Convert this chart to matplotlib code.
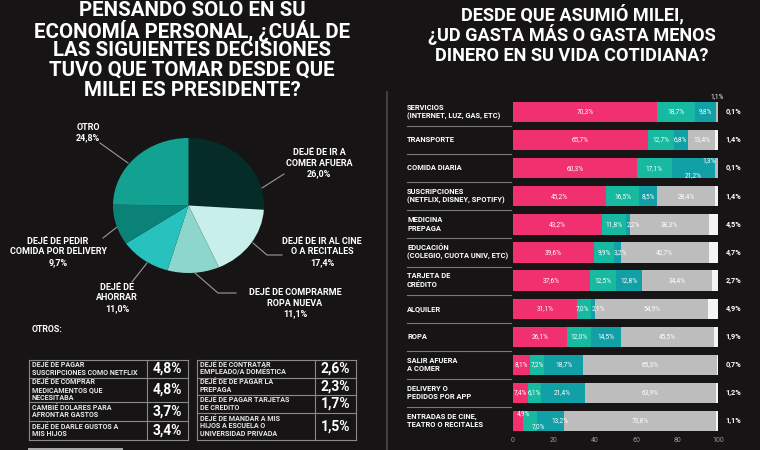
import matplotlib.pyplot as plt
from matplotlib.patches import Rectangle

plt.rcParams['font.family'] = ['Roboto', 'DejaVu Sans']

# pie chart: decisions taken
decisiones = ['DEJÉ DE IR A\nCOMER AFUERA', 'DEJÉ DE IR AL CINE\nO A RECITALES',
              'DEJÉ DE COMPRARME\nROPA NUEVA', 'DEJÉ DE\nAHORRAR',
              'DEJÉ DE PEDIR\nCOMIDA POR DELIVERY', 'OTRO']
porcentajes = [26.0, 17.4, 11.1, 11.0, 9.7, 24.8]
colores_torta = ['#062c28', '#c9efea', '#8cd6cc', '#27c2bd', '#0b8277', '#13a292']

# "otros" tables
otros_izq = ['DEJÉ DE PAGAR\nSUSCRIPCIONES COMO NETFLIX',
             'DEJÉ DE COMPRAR\nMEDICAMENTOS QUE\nNECESITABA',
             'CAMBIÉ DOLARES PARA\nAFRONTAR GASTOS',
             'DEJÉ DE DARLE GUSTOS A\nMIS HIJOS']
otros_izq_pct = [4.8, 4.8, 3.7, 3.4]
otros_der = ['DEJÉ DE CONTRATAR\nEMPLEADO/A DOMÉSTICA',
             'DEJÉ DE DE PAGAR LA\nPREPAGA',
             'DEJÉ DE PAGAR TARJETAS\nDE CREDITO',
             'DEJÉ DE MANDAR A MIS\nHIJOS A ESCUELA O\nUNIVERSIDAD PRIVADA']
otros_der_pct = [2.6, 2.3, 1.7, 1.5]

# stacked bars: spending since Milei
rubros = ['SERVICIOS\n(INTERNET, LUZ, GAS, ETC)', 'TRANSPORTE', 'COMIDA DIARIA',
          'SUSCRIPCIONES\n(NETFLIX, DISNEY, SPOTIFY)', 'MEDICINA\nPREPAGA',
          'EDUCACIÓN\n(COLEGIO, CUOTA UNIV, ETC)', 'TARJETA DE\nCRÉDITO', 'ALQUILER',
          'ROPA', 'SALIR AFUERA\nA COMER', 'DELIVERY O\nPEDIDOS POR APP',
          'ENTRADAS DE CINE,\nTEATRO O RECITALES']
rosa = [70.3, 65.7, 60.3, 45.2, 43.2, 39.6, 37.6, 31.1, 26.1, 8.1, 7.4, 4.9]
verde = [18.7, 12.7, 17.1, 16.5, 11.8, 9.9, 12.5, 7.0, 12.0, 7.2, 6.1, 7.0]
turquesa = [9.8, 6.8, 21.2, 8.5, 2.2, 3.2, 12.8, 2.1, 14.5, 18.7, 21.4, 13.2]
gris = [1.1, 13.4, 1.3, 28.4, 38.3, 42.7, 34.4, 54.9, 45.5, 65.3, 63.9, 73.8]
blanco = [0.1, 1.4, 0.1, 1.4, 4.5, 4.7, 2.7, 4.9, 1.9, 0.7, 1.2, 1.1]
ticks = [0, 20, 40, 60, 80, 100]

BG = '#161414'
W, H = 760, 450


def pct(v):
    return f'{v:.1f}'.replace('.', ',') + '%'


def lines(ax, x, yc, text, size, step, ha='center', color='white', **kw):
    parts = text.split('\n')
    n = len(parts)
    for k, p in enumerate(parts):
        ax.text(x, yc + (k - (n - 1) / 2) * step, p, fontsize=size, ha=ha,
                va='center', color=color, fontweight='bold', **kw)


fig = plt.figure(figsize=(7.6, 4.5), dpi=100, facecolor=BG)

# overlay in pixel coordinates for text and decorations
bg = fig.add_axes([0, 0, 1, 1])
bg.set_xlim(0, W)
bg.set_ylim(H, 0)
bg.axis('off')

# titles
for y, t in zip([10.5, 31, 51, 70.5, 90],
                ['PENSANDO SOLO EN SU', 'ECONOMÍA PERSONAL, ¿CUÁL DE',
                 'LAS SIGUIENTES DECISIONES', 'TUVO QUE TOMAR DESDE QUE',
                 'MILEI ES PRESIDENTE?']):
    bg.text(192, y, t, fontsize=14.8, fontweight='bold', color='white', ha='center', va='center')
for y, t in zip([14, 35, 56], ['DESDE QUE ASUMIÓ MILEI,', '¿UD GASTA MÁS O GASTA MENOS',
                               'DINERO EN SU VIDA COTIDIANA?']):
    bg.text(572, y, t, fontsize=13.1, fontweight='bold', color='white', ha='center', va='center')

# pie
axp = fig.add_axes([113 / W, 1 - 273 / H, 151 / W, 135 / H])
axp.pie(porcentajes, colors=colores_torta, startangle=90, counterclock=False,
        wedgeprops=dict(linewidth=0))
axp.set_aspect('auto')
axp.set_xlim(-1, 1)
axp.set_ylim(-1, 1)

label_pos = [(319, 163), (322, 252), (295, 303), (117, 298), (58, 252), (88, 132.5)]
leaders = [[(262, 188), (284, 174)],
           [(253, 243), (267, 255), (282, 255)],
           [(195, 273), (218, 293), (236, 293)],
           [(147, 263), (132, 282)],
           [(117, 227), (103, 238)],
           [(100, 143), (128, 163)]]
for name, v, (x, y), seg in zip(decisiones, porcentajes, label_pos, leaders):
    lines(bg, x, y, name + '\n' + pct(v), 6.5, 10.5)
    bg.plot([p[0] for p in seg], [p[1] for p in seg], color='#9a9a9a', lw=0.8)

# otros tables
bg.text(32, 329, 'OTROS:', fontsize=6.3, fontweight='bold', color='white', ha='left', va='center')


def tabla(x0, xd, x1, ys, names, vals):
    for y in ys:
        bg.plot([x0, x1], [y, y], color='#8a8a8a', lw=0.8)
    for x in (x0, xd, x1):
        bg.plot([x, x], [ys[0], ys[-1]], color='#8a8a8a', lw=0.8)
    for k, (n, v) in enumerate(zip(names, vals)):
        yc = (ys[k] + ys[k + 1]) / 2
        lines(bg, x0 + 3, yc, n, 5.1, 7.6, ha='left', color='#e6e6e6')
        bg.text((xd + x1) / 2, yc, pct(v), fontsize=10, fontweight='bold', color='white',
                ha='center', va='center')


tabla(29, 147, 188, [360, 378, 402, 421, 440], otros_izq, otros_izq_pct)
tabla(197, 315, 356, [360, 377.5, 395, 412.5, 440], otros_der, otros_der_pct)
bg.add_patch(Rectangle((28, 447.5), 95, 3, color='#a8a8a8', lw=0))

# divider and row separators on the right panel
bg.plot([387, 387], [92, 450], color='#454545', lw=1.3)
row0, step = 112, 28.1
for i, name in enumerate(rubros):
    yc = row0 + i * step
    lines(bg, 407, yc, name, 5.4, 8.6, ha='left')
    if i < len(rubros) - 1:
        bg.plot([407, 511], [yc + step / 2] * 2, color='#7a7a7a', lw=0.8)

# stacked bars
ax = fig.add_axes([513 / W, 1 - (row0 + 11 * step + step / 2) / H, 205 / W, 12 * step / H])
ax.set_facecolor('none')
series = [rosa, verde, turquesa, gris, blanco]
colores = ['#f0306f', '#17b9a0', '#10a0a6', '#bdbdbd', '#f4f4f4']
y = list(range(len(rubros)))
left = [0.0] * len(rubros)
special = {(0, 3): (99.5, -0.55), (2, 3): (95.5, -0.28), (2, 2): (None, 0.25),
           (4, 2): (58.6, 0.0), (5, 2): (52.6, 0.0), (7, 1): (33.8, 0.0),
           (7, 2): (41.8, 0.0),
           (11, 0): (5.0, -0.25), (11, 1): (12.2, 0.2), (11, 2): (23.0, 0.0)}
for j, (vals, c) in enumerate(zip(series, colores)):
    ax.barh(y, vals, left=left, height=0.72, color=c, linewidth=0)
    if j < 4:
        for i, v in enumerate(vals):
            x = left[i] + v / 2
            dy = 0
            if (i, j) in special:
                sx, dy = special[(i, j)]
                if sx is not None:
                    x = sx
            ax.text(x, i + dy, pct(v), fontsize=4.7, color='white', ha='center', va='center',
                    clip_on=False)
    left = [a + b for a, b in zip(left, vals)]
for i, v in enumerate(blanco):
    ax.text(107.5, i, pct(v), fontsize=5.3, color='white', ha='center', va='center',
            fontweight='bold', clip_on=False)

ax.set_xlim(0, 100)
ax.set_ylim(11.5, -0.5)
ax.set_yticks([])
ax.set_xticks(ticks)
ax.tick_params(axis='x', length=0, pad=1, labelsize=5, labelcolor='#9a9a9a')
for s in ax.spines.values():
    s.set_visible(False)

fig.savefig('out.png', dpi=100, facecolor=BG)
